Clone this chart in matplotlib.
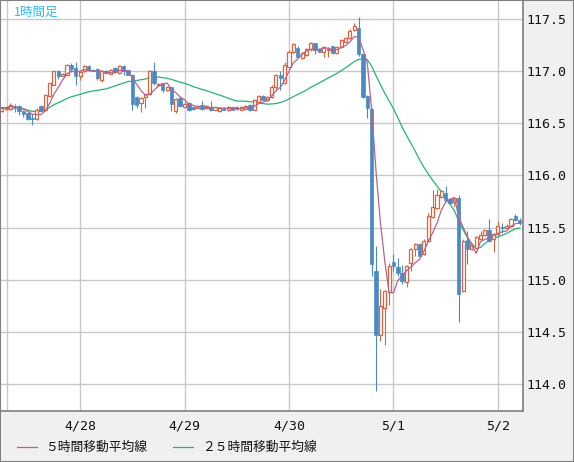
import numpy as np
import pandas as pd
import matplotlib
matplotlib.use("Agg")
import matplotlib.pyplot as plt
from matplotlib.patches import Rectangle
from matplotlib.lines import Line2D

# 1時間足 OHLC (読み取り値)
opens = [116.62, 116.635, 116.637, 116.66, 116.668, 116.62, 116.60, 116.55, 116.54, 116.67,
         116.63, 116.76, 116.87, 117.0, 116.955, 116.965, 117.06, 117.03, 116.95, 117.0,
         117.05, 117.015, 117.02, 116.917, 117.0, 116.975, 117.03, 116.985, 117.045, 117.01,
         116.965, 116.757, 116.697, 116.755, 116.78, 117.0, 116.865, 116.885, 116.82, 116.847,
         116.614, 116.74, 116.66, 116.695, 116.66, 116.65, 116.675, 116.645, 116.66, 116.63,
         116.62, 116.646, 116.63, 116.652, 116.655, 116.63, 116.637, 116.678, 116.63, 116.70,
         116.764, 116.72, 116.75, 116.85, 116.965, 116.885, 117.044, 117.187, 117.226, 117.124,
         117.156, 117.21, 117.268, 117.21, 117.188, 117.2, 117.24, 117.172, 117.23, 117.283,
         117.315, 117.395, 117.41, 117.163, 116.764, 116.64, 115.084, 114.469, 114.733, 114.878,
         115.17, 115.126, 115.062, 114.98, 115.164, 115.29, 115.34, 115.25, 115.371, 115.60,
         115.69, 115.795, 115.827, 115.776, 115.746, 115.78, 114.893, 115.38, 115.292, 115.308,
         115.394, 115.425, 115.473, 115.39, 115.435, 115.51, 115.50, 115.515, 115.61, 115.569]
highs = [116.66, 116.66, 116.694, 116.69, 116.68, 116.63, 116.605, 116.59, 116.645, 116.675,
         116.78, 116.89, 117.005, 117.01, 116.98, 117.07, 117.082, 117.092, 117.0, 117.06,
         117.06, 117.02, 117.029, 117.01, 117.01, 117.02, 117.04, 117.06, 117.06, 117.015,
         116.97, 116.76, 116.757, 116.785, 117.01, 117.09, 116.89, 116.89, 116.86, 116.85,
         116.74, 116.757, 116.70, 116.70, 116.67, 116.68, 116.71, 116.68, 116.71, 116.66,
         116.655, 116.655, 116.67, 116.66, 116.665, 116.67, 116.675, 116.69, 116.732, 116.773,
         116.773, 116.76, 116.87, 116.97, 117.0, 117.09, 117.20, 117.27, 117.242, 117.18,
         117.22, 117.283, 117.273, 117.22, 117.24, 117.235, 117.245, 117.24, 117.305, 117.325,
         117.40, 117.46, 117.516, 117.165, 116.77, 116.65, 115.323, 114.909, 114.90, 115.158,
         115.244, 115.21, 115.14, 115.14, 115.30, 115.355, 115.35, 115.39, 115.64, 115.865,
         115.872, 115.865, 115.90, 115.785, 115.79, 115.817, 115.394, 115.467, 115.34, 115.42,
         115.467, 115.476, 115.585, 115.45, 115.562, 115.543, 115.53, 115.595, 115.626, 115.595]
lows = [116.61, 116.63, 116.63, 116.61, 116.58, 116.565, 116.535, 116.48, 116.53, 116.615,
        116.62, 116.75, 116.865, 116.926, 116.95, 116.96, 116.996, 116.869, 116.917, 116.99,
        117.0, 117.0, 116.917, 116.90, 116.97, 116.97, 116.98, 116.975, 116.965, 116.96,
        116.63, 116.646, 116.61, 116.65, 116.77, 116.87, 116.86, 116.80, 116.81, 116.614,
        116.60, 116.66, 116.65, 116.62, 116.63, 116.645, 116.63, 116.64, 116.62, 116.625,
        116.61, 116.625, 116.62, 116.625, 116.63, 116.625, 116.63, 116.614, 116.623, 116.694,
        116.72, 116.715, 116.742, 116.82, 116.82, 116.88, 117.038, 117.17, 117.135, 117.115,
        117.15, 117.197, 117.166, 117.18, 117.14, 117.14, 117.165, 117.165, 117.225, 117.28,
        117.306, 117.388, 117.146, 116.742, 116.55, 115.037, 113.937, 114.415, 114.374, 114.756,
        115.08, 115.036, 114.957, 114.93, 115.084, 115.227, 115.22, 115.24, 115.36, 115.594,
        115.68, 115.786, 115.744, 115.731, 115.705, 114.597, 114.883, 115.148, 115.285, 115.292,
        115.38, 115.418, 115.362, 115.266, 115.425, 115.452, 115.49, 115.508, 115.562, 115.52]
closes = [116.65, 116.65, 116.678, 116.65, 116.62, 116.59, 116.54, 116.54, 116.63, 116.62,
          116.77, 116.885, 117.0, 116.95, 116.974, 117.06, 117.02, 116.95, 116.996, 117.05,
          117.01, 117.005, 116.93, 117.006, 116.98, 117.01, 116.99, 117.045, 117.0, 116.965,
          116.685, 116.678, 116.745, 116.78, 117.0, 116.885, 116.88, 116.82, 116.85, 116.686,
          116.733, 116.67, 116.69, 116.63, 116.64, 116.67, 116.64, 116.67, 116.63, 116.652,
          116.646, 116.63, 116.66, 116.63, 116.635, 116.66, 116.668, 116.63, 116.719, 116.764,
          116.726, 116.75, 116.853, 116.965, 116.933, 117.06, 117.187, 117.258, 117.14, 117.172,
          117.21, 117.273, 117.204, 117.188, 117.23, 117.21, 117.17, 117.23, 117.30, 117.315,
          117.388, 117.433, 117.163, 116.751, 116.646, 115.148, 114.469, 114.744, 114.893, 115.132,
          115.132, 115.06, 114.983, 115.13, 115.298, 115.34, 115.227, 115.371, 115.61, 115.70,
          115.808, 115.849, 115.763, 115.738, 115.786, 114.861, 115.371, 115.292, 115.33, 115.413,
          115.425, 115.473, 115.371, 115.44, 115.515, 115.50, 115.515, 115.585, 115.572, 115.547]

day_labels = ["4/28", "4/29", "4/30", "5/1", "5/2"]
day_index = [18, 42, 66, 90, 114]
y_ticks = [114.0, 114.5, 115.0, 115.5, 116.0, 116.5, 117.0, 117.5]

df = pd.DataFrame({"open": opens, "high": highs, "low": lows, "close": closes})
df["ma5"] = df["close"].rolling(5, min_periods=1).mean()
df["ma25"] = df["close"].rolling(25, min_periods=1).mean()
x = np.arange(len(df))

RED = "#d9643f"
BLUE = "#4a8ac4"
MA5_C = "#b8628e"
MA25_C = "#25b374"
GRID = "#c8c8c8"
PANEL = "#f0f0f0"
EDGE = "#808080"

W, H = 574, 462
fig = plt.figure(figsize=(W / 100, H / 100), dpi=100, facecolor=PANEL)
ax = fig.add_axes([1 / W, (H - 411) / H, 522 / W, 410 / H])
ax.set_facecolor("white")

# grid
for yv in y_ticks:
    ax.axhline(yv, color=GRID, lw=1.0, zorder=0)
for xv in day_index + [1.25]:
    ax.axvline(xv, color=GRID, lw=1.0, zorder=0)

# MA lines
ax.plot(x, df["ma25"], color=MA25_C, lw=0.9, zorder=2)
ax.plot(x, df["ma5"], color=MA5_C, lw=0.9, zorder=4)

# candles
up = df["close"] >= df["open"]
ax.vlines(x[up], df["low"][up], df["high"][up], color=RED, lw=0.8, zorder=3)
ax.vlines(x[~up], df["low"][~up], df["high"][~up], color=BLUE, lw=0.8, zorder=3)
body_lo = np.minimum(df["open"], df["close"])
body_h = np.maximum((df["close"] - df["open"]).abs(), 0.008)
ax.bar(x[up], body_h[up], bottom=body_lo[up], width=0.7, facecolor="white",
       edgecolor=RED, lw=0.9, zorder=3.5)
ax.bar(x[~up], body_h[~up], bottom=body_lo[~up], width=0.8, facecolor=BLUE,
       edgecolor=BLUE, lw=0.5, zorder=3.5)

ax.set_xlim(-0.16, 119.76)
ax.set_ylim(113.741, 117.673)

ax.yaxis.tick_right()
ax.set_yticks(y_ticks)
ax.set_yticklabels([f"{v:.1f}" for v in y_ticks])
ax.set_xticks(day_index)
ax.set_xticklabels(day_labels)
ax.tick_params(axis="y", length=0, pad=2.5, labelsize=9.5, labelcolor="#111111")
ax.tick_params(axis="x", length=0, pad=6, labelsize=9.5, labelcolor="#111111")
for lab in ax.get_xticklabels() + ax.get_yticklabels():
    lab.set_fontfamily("DejaVu Sans Mono")

for side in ["top", "left"]:
    ax.spines[side].set_visible(False)
for side in ["bottom", "right"]:
    ax.spines[side].set_color(EDGE)
    ax.spines[side].set_linewidth(1.2)

ax.text(0.025, 0.988, "1時間足", transform=ax.transAxes, ha="left", va="top",
        color="#33b8ee", fontsize=9, family=["Noto Sans CJK JP", "DejaVu Sans"])

# legend
ly = (H - 447) / H
fig.add_artist(Line2D([16.5 / W, 36.5 / W], [ly, ly], color=MA5_C, lw=0.9))
fig.text(45 / W, ly, "５時間移動平均線", ha="left", va="center", fontsize=9.2,
         family=["Noto Sans CJK JP", "DejaVu Sans"], color="#111111")
fig.add_artist(Line2D([173 / W, 193 / W], [ly, ly], color=MA25_C, lw=0.9))
fig.text(202 / W, ly, "２５時間移動平均線", ha="left", va="center", fontsize=9.2,
         family=["Noto Sans CJK JP", "DejaVu Sans"], color="#111111")

fig.add_artist(Rectangle((0, 0), 1, 1, transform=fig.transFigure, fill=False,
                         edgecolor=EDGE, lw=1.5))

fig.savefig("out.png", dpi=100, facecolor=PANEL)
